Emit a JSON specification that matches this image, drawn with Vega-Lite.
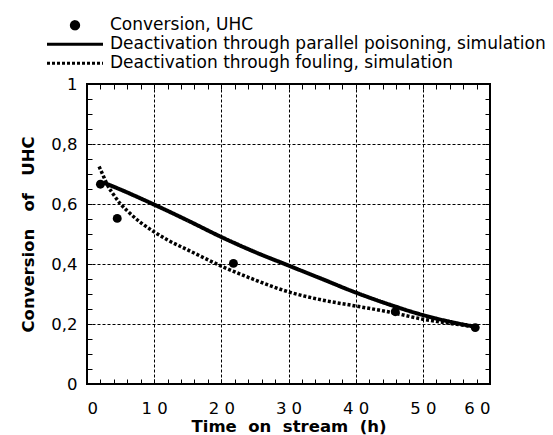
{
  "$schema": "https://vega.github.io/schema/vega-lite/v6.json",
  "width": 403,
  "height": 300,
  "autosize": {"type": "none"},
  "padding": {"left": 87, "top": 84, "right": 63, "bottom": 51},
  "background": "white",
  "config": {
    "view": {"stroke": "black", "strokeWidth": 2},
    "font": "DejaVu Sans",
    "axis": {"labelColor": "black", "titleColor": "black", "tickColor": "black", "domainColor": "black"}
  },
  "datasets": {
    "points": [
      {"time": 2.0, "conversion": 0.666},
      {"time": 4.5, "conversion": 0.552},
      {"time": 21.8, "conversion": 0.402},
      {"time": 45.9, "conversion": 0.241},
      {"time": 57.8, "conversion": 0.188}
    ],
    "poisoning": [
      {"time": 2.4, "conversion": 0.672, "series": "Deactivation through parallel poisoning, simulation"},
      {"time": 5, "conversion": 0.648, "series": "Deactivation through parallel poisoning, simulation"},
      {"time": 10, "conversion": 0.598, "series": "Deactivation through parallel poisoning, simulation"},
      {"time": 15, "conversion": 0.545, "series": "Deactivation through parallel poisoning, simulation"},
      {"time": 20, "conversion": 0.49, "series": "Deactivation through parallel poisoning, simulation"},
      {"time": 25, "conversion": 0.44, "series": "Deactivation through parallel poisoning, simulation"},
      {"time": 30, "conversion": 0.395, "series": "Deactivation through parallel poisoning, simulation"},
      {"time": 35, "conversion": 0.35, "series": "Deactivation through parallel poisoning, simulation"},
      {"time": 40, "conversion": 0.305, "series": "Deactivation through parallel poisoning, simulation"},
      {"time": 45, "conversion": 0.265, "series": "Deactivation through parallel poisoning, simulation"},
      {"time": 50, "conversion": 0.23, "series": "Deactivation through parallel poisoning, simulation"},
      {"time": 55, "conversion": 0.203, "series": "Deactivation through parallel poisoning, simulation"},
      {"time": 58, "conversion": 0.19, "series": "Deactivation through parallel poisoning, simulation"}
    ],
    "fouling": [
      {"time": 1.8, "conversion": 0.725, "series": "Deactivation through fouling, simulation"},
      {"time": 2.5, "conversion": 0.69, "series": "Deactivation through fouling, simulation"},
      {"time": 3, "conversion": 0.665, "series": "Deactivation through fouling, simulation"},
      {"time": 4, "conversion": 0.63, "series": "Deactivation through fouling, simulation"},
      {"time": 5, "conversion": 0.6, "series": "Deactivation through fouling, simulation"},
      {"time": 6, "conversion": 0.577, "series": "Deactivation through fouling, simulation"},
      {"time": 8, "conversion": 0.538, "series": "Deactivation through fouling, simulation"},
      {"time": 10, "conversion": 0.507, "series": "Deactivation through fouling, simulation"},
      {"time": 12, "conversion": 0.48, "series": "Deactivation through fouling, simulation"},
      {"time": 15, "conversion": 0.447, "series": "Deactivation through fouling, simulation"},
      {"time": 20, "conversion": 0.393, "series": "Deactivation through fouling, simulation"},
      {"time": 25, "conversion": 0.347, "series": "Deactivation through fouling, simulation"},
      {"time": 30, "conversion": 0.307, "series": "Deactivation through fouling, simulation"},
      {"time": 35, "conversion": 0.28, "series": "Deactivation through fouling, simulation"},
      {"time": 40, "conversion": 0.26, "series": "Deactivation through fouling, simulation"},
      {"time": 45, "conversion": 0.24, "series": "Deactivation through fouling, simulation"},
      {"time": 50, "conversion": 0.216, "series": "Deactivation through fouling, simulation"},
      {"time": 55, "conversion": 0.199, "series": "Deactivation through fouling, simulation"},
      {"time": 58, "conversion": 0.19, "series": "Deactivation through fouling, simulation"}
    ]
  },
  "layer": [
    {
      "data": {"name": "poisoning"},
      "mark": {"type": "line", "color": "black", "strokeWidth": 4, "interpolate": "monotone"},
      "encoding": {
        "x": {"field": "time", "type": "quantitative", "scale": {"domain": [0, 60], "nice": false},
          "axis": {"orient": "top", "domain": false, "values": [0,2,4,6,8,10,12,14,16,18,20,22,24,26,28,30,32,34,36,38,40,42,44,46,48,50,52,54,56,58,60], "labelExpr": "''", "ticks": false, "title": "\u00a0",
            "grid": true, "gridColor": "black", "gridOpacity": 1, "gridWidth": 1, "gridDash": [5, 290, 5, 100]}},
        "y": {"field": "conversion", "type": "quantitative", "scale": {"domain": [0, 1], "nice": false},
          "axis": {"orient": "right", "domain": false, "values": [0,0.05,0.1,0.15,0.2,0.25,0.3,0.35,0.4,0.45,0.5,0.55,0.6,0.65,0.7,0.75,0.8,0.85,0.9,0.95,1], "labelExpr": "''", "ticks": false, "title": "\u00a0",
            "grid": true, "gridColor": "black", "gridOpacity": 1, "gridWidth": 1, "gridDash": [5, 393, 5, 100]}},
        "strokeDash": {"field": "series", "type": "nominal",
          "scale": {"domain": ["Conversion, UHC", "Deactivation through parallel poisoning, simulation", "Deactivation through fouling, simulation"], "range": [[1, 0], [1, 0], [3, 2]]},
          "legend": {
            "orient": "none", "legendX": -41.5, "legendY": -68, "title": null, "padding": 0,
            "labelFont": "DejaVu Sans", "labelFontSize": 17, "labelColor": "black", "labelLimit": 600, "labelOffset": 5.5,
            "symbolSize": 3136, "symbolStrokeWidth": 3, "symbolStrokeColor": "black", "symbolType": "stroke",
            "clipHeight": 18.5, "rowPadding": 0,
            "encode": {"symbols": {"update": {
              "shape": {"signal": "datum.value === 'Conversion, UHC' ? 'M0.13,0A0.13,0.13,0,1,1,-0.13,0A0.13,0.13,0,1,1,0.13,0Z' : 'stroke'"},
              "fill": {"value": "black"},
              "stroke": {"value": "black"}
            }}}
          }}
      }
    },
    {
      "data": {"name": "fouling"},
      "mark": {"type": "line", "color": "black", "strokeWidth": 3.5, "interpolate": "monotone", "strokeCap": "butt"},
      "encoding": {
        "x": {"field": "time", "type": "quantitative", "axis": null},
        "y": {"field": "conversion", "type": "quantitative", "axis": null},
        "strokeDash": {"field": "series", "type": "nominal"}
      }
    },
    {
      "data": {"name": "points"},
      "mark": {"type": "circle", "size": 80, "color": "black", "opacity": 1},
      "encoding": {
        "x": {"field": "time", "type": "quantitative",
          "axis": {"orient": "bottom", "domain": false, "values": [0,10,20,30,40,50,60], "grid": true, "gridDash": [3, 2], "gridColor": "black", "gridOpacity": 1, "gridWidth": 1, "ticks": false,
            "labelFont": "DejaVu Sans", "labelFontSize": 16.5, "labelPadding": 16,
            "labelExpr": "datum.value >= 10 ? slice(datum.label, 0, 1) + ' ' + slice(datum.label, 1) : datum.label",
            "title": "Time\u00a0\u00a0on\u00a0\u00a0stream\u00a0\u00a0(h)", "titleFont": "DejaVu Sans", "titleFontSize": 16.5, "titleFontWeight": "bold", "titlePadding": 2}},
        "y": {"field": "conversion", "type": "quantitative",
          "axis": {"orient": "left", "domain": false, "values": [0, 0.2, 0.4, 0.6, 0.8, 1], "grid": true, "gridDash": [3, 2], "gridColor": "black", "gridOpacity": 1, "gridWidth": 1, "ticks": false,
            "labelFont": "DejaVu Sans", "labelFontSize": 16.5, "labelPadding": 10,
            "labelExpr": "replace(format(datum.value, '.1~f'), '.', ',')",
            "title": "Conversion\u00a0\u00a0\u00a0of\u00a0\u00a0\u00a0UHC", "titleFont": "DejaVu Sans", "titleFontSize": 16.5, "titleFontWeight": "bold", "titlePadding": 14}}
      }
    }
  ],
  "resolve": {"axis": {"x": "independent", "y": "independent"}}
}
